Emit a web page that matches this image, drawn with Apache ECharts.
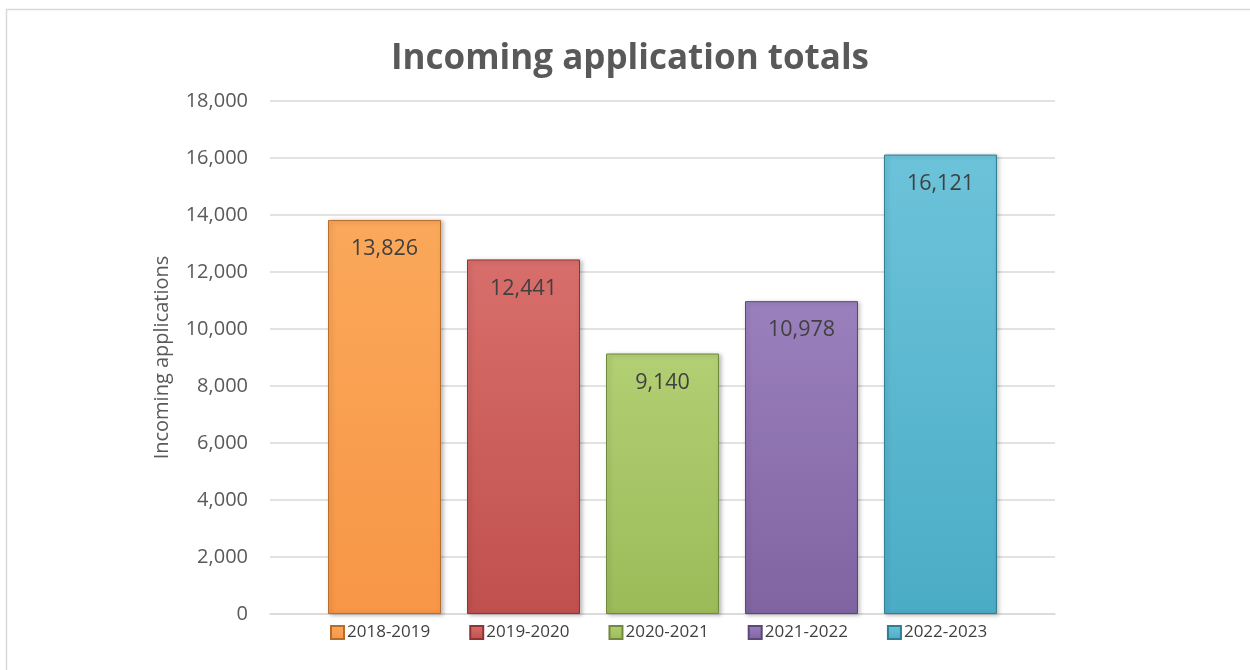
<!DOCTYPE html>
<html>
<head>
<meta charset="utf-8">
<script src="https://cdn.jsdelivr.net/npm/echarts@6/dist/echarts.min.js"></script>
<style>
html,body{margin:0;padding:0;background:#fff;}
#c{width:1250px;height:670px;}
</style>
</head>
<body>
<div id="c"></div>
<script>
const titleText = 'Incoming application totals';
const yAxisName = 'Incoming applications';
const seasons = ['2018-2019', '2019-2020', '2020-2021', '2021-2022', '2022-2023'];
const totals = [13826, 12441, 9140, 10978, 16121];
const baseColors = ['#F79646', '#C0504D', '#9BBB59', '#8064A2', '#4BACC6'];
const topColors = ['#FBA85A', '#D86E6B', '#B2CF73', '#9B80BE', '#6CC3DA'];
const edgeColors = ['#B66D2C', '#8E3533', '#71893F', '#5C4877', '#2F7E93'];

const chart = echarts.init(document.getElementById('c'));
const fmt = v => v.toLocaleString('en-US');

const series = seasons.map((s, i) => ({
  name: s,
  type: 'bar',
  data: [totals[i]],
  barWidth: 113,
  barGap: '23%',
  itemStyle: {
    color: new echarts.graphic.LinearGradient(0, 0, 0, 1, [
      {offset: 0, color: topColors[i]},
      {offset: 1, color: baseColors[i]}
    ]),
    borderColor: edgeColors[i],
    borderWidth: 1,
    shadowColor: 'rgba(0,0,0,0.25)',
    shadowBlur: 4,
    shadowOffsetX: 2,
    shadowOffsetY: 1
  },
  label: {
    show: true,
    position: 'insideTop',
    distance: 18,
    formatter: p => fmt(p.value),
    color: '#404040',
    fontSize: 21.5,
    fontFamily: 'Open Sans'
  }
}));

chart.setOption({
  backgroundColor: '#fff',
  animation: false,
  graphic: [{
    type: 'rect',
    shape: {x: 6.5, y: 9.5, width: 1300, height: 700},
    style: {fill: 'none', stroke: '#d9d9d9', lineWidth: 1.5},
    silent: true
  }],
  title: {
    text: titleText,
    left: 386,
    top: 37,
    textStyle: {color: '#595959', fontSize: 35, fontWeight: 'bold', fontFamily: 'Open Sans'}
  },
  legend: {
    bottom: 24,
    left: 325,
    itemWidth: 13,
    itemHeight: 13,
    itemGap: 39,
    icon: 'rect',
    textStyle: {color: '#404040', fontSize: 17, fontFamily: 'Open Sans', padding: [0,0,0,-2]},
    data: seasons
  },
  grid: {left: 270, right: 195, top: 101, bottom: 56},
  xAxis: {
    type: 'category',
    data: [''],
    axisLine: {lineStyle: {color: '#d9d9d9', width: 1.5}},
    axisTick: {show: false},
    axisLabel: {show: false}
  },
  yAxis: {
    type: 'value',
    min: 0,
    max: 18000,
    interval: 2000,
    name: yAxisName,
    nameLocation: 'middle',
    nameGap: 98,
    nameTextStyle: {color: '#595959', fontSize: 20, fontFamily: 'Open Sans'},
    axisLine: {show: false},
    axisTick: {show: false},
    axisLabel: {color: '#595959', fontSize: 20, margin: 22, fontFamily: 'Open Sans', formatter: v => fmt(v)},
    splitLine: {lineStyle: {color: '#d9d9d9', width: 1.5}}
  },
  series: series
});
</script>
</body>
</html>
